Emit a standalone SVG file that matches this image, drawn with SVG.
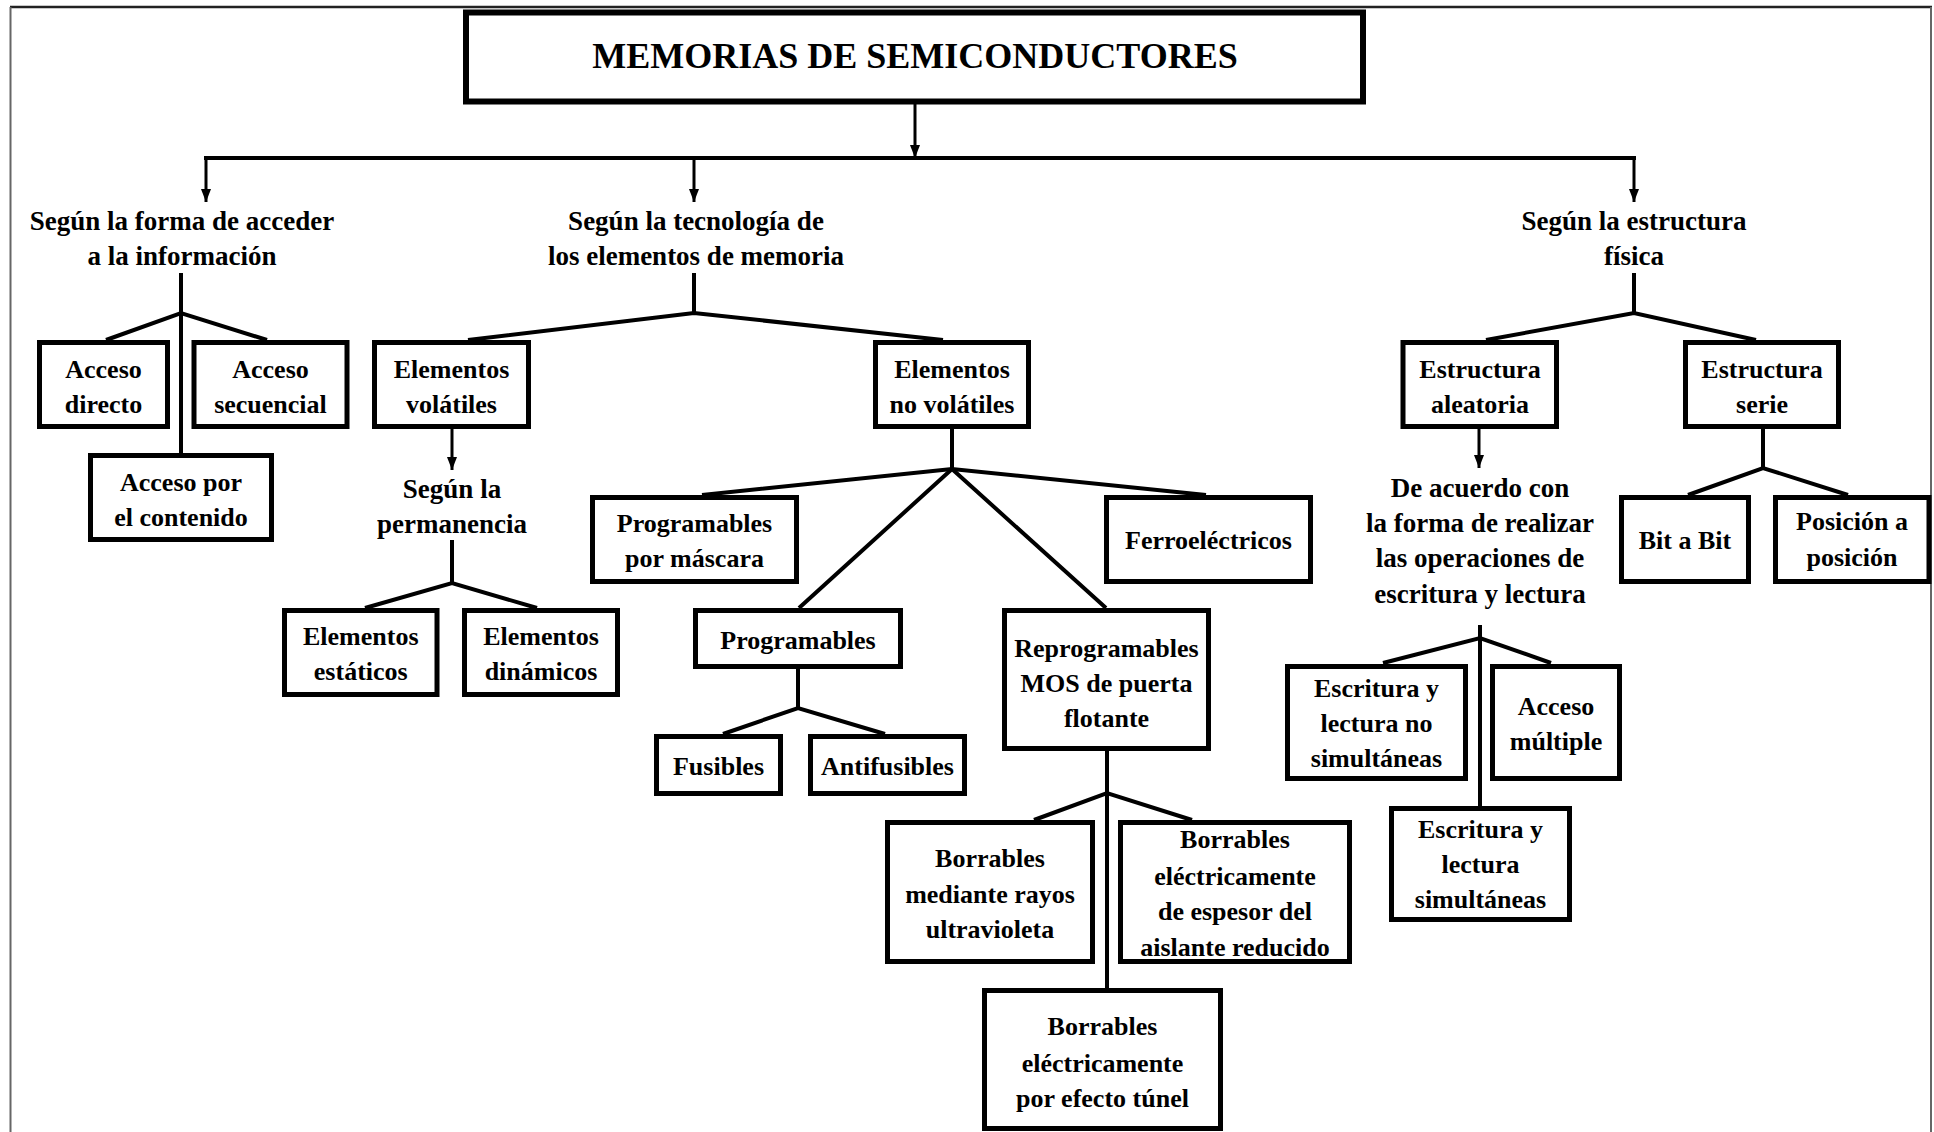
<svg xmlns="http://www.w3.org/2000/svg" width="1934" height="1132" viewBox="0 0 1934 1132">
<style>
.bg{fill:#fff}
.box{fill:#fff;stroke:#000;stroke-width:5}
.t{font-family:"Liberation Serif","Times New Roman",serif;font-weight:bold;font-size:26px;text-anchor:middle;fill:#000}
.h{font-size:27px}
.title{font-size:36px}
.c{stroke:#000;stroke-width:4;fill:none;stroke-linecap:butt}
.a{stroke:#000;stroke-width:3;fill:none;marker-end:url(#ah)}
.frame{stroke:#666;stroke-width:2;fill:none}
</style>
<defs>
<marker id="ah" viewBox="0 0 13 10" refX="13" refY="5" markerWidth="13" markerHeight="10" markerUnits="userSpaceOnUse" orient="auto">
<path d="M0,0 L13,5 L0,10 Z" fill="#000"/>
</marker>
</defs>
<rect class="bg" x="0" y="0" width="1934" height="1132"/>
<g id="frame">
<line x1="10" y1="7" x2="1932" y2="7" stroke="#222" stroke-width="2.5"/>
<line class="frame" x1="10.5" y1="7" x2="10.5" y2="1132"/>
<line class="frame" x1="1931" y1="7" x2="1931" y2="1132"/>
</g>
<g id="connectors">
<line class="a" x1="915" y1="104" x2="915" y2="158"/>
<line class="c" x1="204" y1="158" x2="1636" y2="158"/>
<line class="a" x1="206" y1="158" x2="206" y2="202"/>
<line class="a" x1="694" y1="158" x2="694" y2="202"/>
<line class="a" x1="1634" y1="158" x2="1634" y2="202"/>
<polyline class="c" points="181,273 181,453"/>
<polyline class="c" points="106,340 181,313 267,340"/>
<polyline class="c" points="694,273 694,313"/>
<polyline class="c" points="468,340 694,313 943,340"/>
<polyline class="c" points="1634,273 1634,313"/>
<polyline class="c" points="1486,340 1634,313 1756,340"/>
<line class="a" x1="452" y1="429" x2="452" y2="470"/>
<polyline class="c" points="452,540 452,583"/>
<polyline class="c" points="365,608 452,583 537,608"/>
<polyline class="c" points="952,429 952,469"/>
<polyline class="c" points="702,495 952,469 1206,495"/>
<polyline class="c" points="799,608 952,469 1106,608"/>
<polyline class="c" points="798,669 798,708"/>
<polyline class="c" points="723,734 798,708 885,734"/>
<polyline class="c" points="1107,750 1107,988"/>
<polyline class="c" points="1034,820 1107,793 1192,820"/>
<line class="a" x1="1479" y1="429" x2="1479" y2="468"/>
<polyline class="c" points="1480,625 1480,806"/>
<polyline class="c" points="1383,663 1480,638 1551,663"/>
<polyline class="c" points="1763,429 1763,468"/>
<polyline class="c" points="1688,495 1763,468 1848,495"/>
</g>
<g id="title">
<rect x="466" y="12.5" width="897" height="89" fill="#fff" stroke="#000" stroke-width="6"/>
<text class="t title" x="915" y="68">MEMORIAS DE SEMICONDUCTORES</text>
</g>
<g id="h-acceso">
<text class="t h" x="182" y="230">Según la forma de acceder</text>
<text class="t h" x="182" y="265">a la información</text>
</g>
<g id="h-tecnologia">
<text class="t h" x="696" y="230">Según la tecnología de</text>
<text class="t h" x="696" y="265">los elementos de memoria</text>
</g>
<g id="h-estructura">
<text class="t h" x="1634" y="230">Según la estructura</text>
<text class="t h" x="1634" y="265">física</text>
</g>
<g id="acceso-directo">
<rect class="box" x="39.5" y="342.5" width="128" height="84"/>
<text class="t" x="103.5" y="378">Acceso</text>
<text class="t" x="103.5" y="413">directo</text>
</g>
<g id="acceso-secuencial">
<rect class="box" x="194" y="342.5" width="153" height="84"/>
<text class="t" x="270.5" y="378">Acceso</text>
<text class="t" x="270.5" y="413">secuencial</text>
</g>
<g id="acceso-contenido">
<rect class="box" x="90.5" y="455.5" width="181" height="84"/>
<text class="t" x="181" y="491">Acceso por</text>
<text class="t" x="181" y="526">el contenido</text>
</g>
<g id="elementos-volatiles">
<rect class="box" x="374.5" y="342.5" width="154" height="84"/>
<text class="t" x="451.5" y="378">Elementos</text>
<text class="t" x="451.5" y="413">volátiles</text>
</g>
<g id="h-permanencia">
<text class="t h" x="452" y="498">Según la</text>
<text class="t h" x="452" y="533">permanencia</text>
</g>
<g id="elementos-estaticos">
<rect class="box" x="284.5" y="610.5" width="152.5" height="84"/>
<text class="t" x="360.75" y="645">Elementos</text>
<text class="t" x="360.75" y="680">estáticos</text>
</g>
<g id="elementos-dinamicos">
<rect class="box" x="464.5" y="610.5" width="153" height="84"/>
<text class="t" x="541" y="645">Elementos</text>
<text class="t" x="541" y="680">dinámicos</text>
</g>
<g id="elementos-no-volatiles">
<rect class="box" x="875.5" y="342.5" width="153" height="84"/>
<text class="t" x="952" y="378">Elementos</text>
<text class="t" x="952" y="413">no volátiles</text>
</g>
<g id="programables-mascara">
<rect class="box" x="592.5" y="497.5" width="204" height="84"/>
<text class="t" x="694.5" y="532">Programables</text>
<text class="t" x="694.5" y="567">por máscara</text>
</g>
<g id="programables">
<rect class="box" x="695.5" y="610.5" width="205" height="56"/>
<text class="t" x="798" y="649">Programables</text>
</g>
<g id="fusibles">
<rect class="box" x="656.5" y="736.5" width="124" height="57"/>
<text class="t" x="718.5" y="775">Fusibles</text>
</g>
<g id="antifusibles">
<rect class="box" x="810.5" y="736.5" width="154" height="57"/>
<text class="t" x="887.5" y="775">Antifusibles</text>
</g>
<g id="reprogramables">
<rect class="box" x="1004.5" y="610.5" width="204" height="138"/>
<text class="t" x="1106.5" y="657">Reprogramables</text>
<text class="t" x="1106.5" y="692">MOS de puerta</text>
<text class="t" x="1106.5" y="727">flotante</text>
</g>
<g id="ferroelectricos">
<rect class="box" x="1106.5" y="497.5" width="204" height="84"/>
<text class="t" x="1208.5" y="549">Ferroeléctricos</text>
</g>
<g id="borrables-uv">
<rect class="box" x="887.5" y="822.5" width="205" height="139"/>
<text class="t" x="990" y="867">Borrables</text>
<text class="t" x="990" y="903">mediante rayos</text>
<text class="t" x="990" y="938">ultravioleta</text>
</g>
<g id="borrables-espesor">
<rect class="box" x="1120.5" y="822.5" width="229" height="139"/>
<text class="t" x="1235" y="848">Borrables</text>
<text class="t" x="1235" y="885">eléctricamente</text>
<text class="t" x="1235" y="920">de espesor del</text>
<text class="t" x="1235" y="956">aislante reducido</text>
</g>
<g id="borrables-tunel">
<rect class="box" x="984.5" y="990.5" width="236" height="138"/>
<text class="t" x="1102.5" y="1035">Borrables</text>
<text class="t" x="1102.5" y="1072">eléctricamente</text>
<text class="t" x="1102.5" y="1107">por efecto túnel</text>
</g>
<g id="estructura-aleatoria">
<rect class="box" x="1403" y="342.5" width="153.5" height="84"/>
<text class="t" x="1480" y="378">Estructura</text>
<text class="t" x="1480" y="413">aleatoria</text>
</g>
<g id="estructura-serie">
<rect class="box" x="1685.5" y="342.5" width="153" height="84"/>
<text class="t" x="1762" y="378">Estructura</text>
<text class="t" x="1762" y="413">serie</text>
</g>
<g id="h-operaciones">
<text class="t h" x="1480" y="497">De acuerdo con</text>
<text class="t h" x="1480" y="532">la forma de realizar</text>
<text class="t h" x="1480" y="567">las operaciones de</text>
<text class="t h" x="1480" y="603">escritura y lectura</text>
</g>
<g id="bit-a-bit">
<rect class="box" x="1621.5" y="497.5" width="127" height="84"/>
<text class="t" x="1685" y="549">Bit a Bit</text>
</g>
<g id="posicion-a-posicion">
<rect class="box" x="1775.5" y="497.5" width="153.5" height="84"/>
<text class="t" x="1852" y="530">Posición a</text>
<text class="t" x="1852" y="566">posición</text>
</g>
<g id="escritura-no-simultaneas">
<rect class="box" x="1287.5" y="666.5" width="178" height="112"/>
<text class="t" x="1376.5" y="697">Escritura y</text>
<text class="t" x="1376.5" y="732">lectura no</text>
<text class="t" x="1376.5" y="767">simultáneas</text>
</g>
<g id="acceso-multiple">
<rect class="box" x="1492.5" y="666.5" width="127" height="112"/>
<text class="t" x="1556" y="715">Acceso</text>
<text class="t" x="1556" y="750">múltiple</text>
</g>
<g id="escritura-simultaneas">
<rect class="box" x="1391.5" y="808.5" width="178" height="111"/>
<text class="t" x="1480.5" y="838">Escritura y</text>
<text class="t" x="1480.5" y="873">lectura</text>
<text class="t" x="1480.5" y="908">simultáneas</text>
</g>
</svg>
